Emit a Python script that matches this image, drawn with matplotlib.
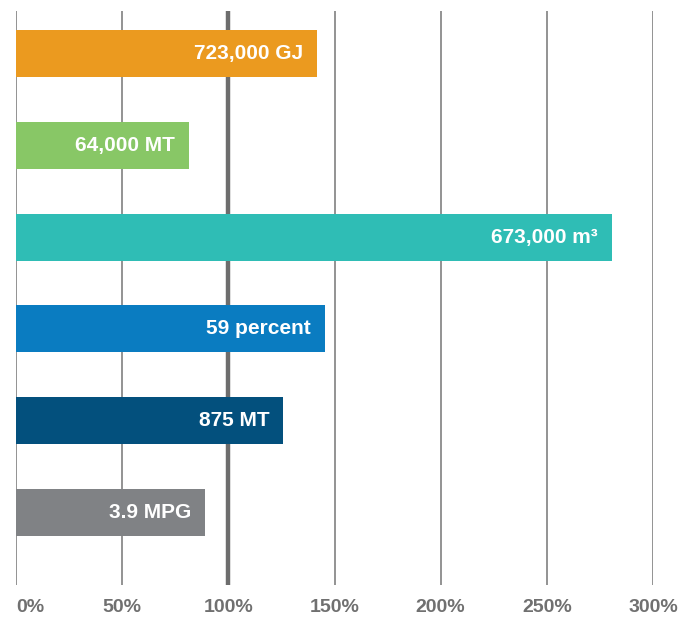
import matplotlib.pyplot as plt
import matplotlib as mpl

mpl.rcParams['font.family'] = ['Liberation Sans Narrow', 'Liberation Sans', 'DejaVu Sans']

# data
labels = ['723,000 GJ', '64,000 MT', '673,000 m³', '59 percent', '875 MT', '3.9 MPG']
values = [141.6, 81.5, 280.7, 145.5, 125.8, 89.0]
colors = ['#EB9A1F', '#88C766', '#2FBDB5', '#0A7CC1', '#03507D', '#808285']
ticks = [0, 50, 100, 150, 200, 250, 300]
tick_labels = ['0%', '50%', '100%', '150%', '200%', '250%', '300%']

fig = plt.figure(figsize=(6.96, 6.2), dpi=100)
ax = fig.add_axes([16/696, 35/620, (653-16)/696, (609-35)/620])

ypos = list(range(len(values)))
ax.barh(ypos, values, height=0.51, color=colors, zorder=2)

for y, v, t in zip(ypos, values, labels):
    ax.text(v - 6.5, y, t, ha='right', va='center', color='white',
            fontsize=15, fontweight='bold', zorder=3)

# grid lines
for t in ticks:
    if t == 100:
        ax.axvline(t, color='#6d6d6d', lw=3.2, zorder=1)
    else:
        ax.axvline(t, color='#8a8a8a', lw=1.3, zorder=1)

ax.set_xlim(0, 300)
ax.set_ylim(5.79, -0.463)
ax.set_yticks([])
ax.set_xticks(ticks)
ax.set_xticklabels(tick_labels, fontsize=14, fontweight='bold', color='#707070')
ax.get_xticklabels()[0].set_ha('left')
ax.tick_params(axis='x', length=0, pad=10)
for s in ax.spines.values():
    s.set_visible(False)

fig.savefig('out.png', dpi=100)
